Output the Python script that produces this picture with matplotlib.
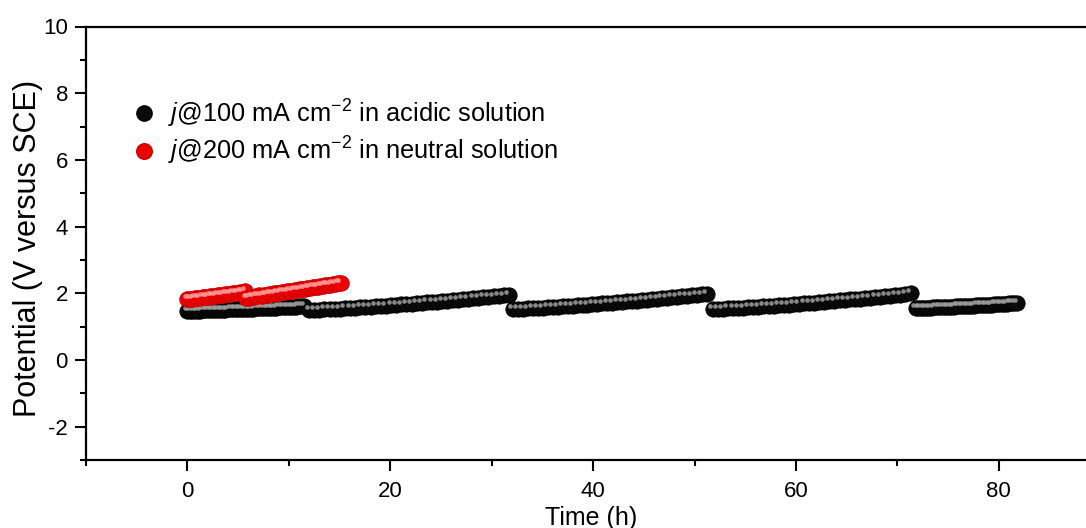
import numpy as np
import matplotlib
matplotlib.use("Agg")
import matplotlib.pyplot as plt
from matplotlib.lines import Line2D
from matplotlib import transforms

plt.rcParams['font.family'] = ['Liberation Sans', 'DejaVu Sans']
plt.rcParams['mathtext.fontset'] = 'custom'
plt.rcParams['mathtext.rm'] = 'Liberation Sans'
plt.rcParams['mathtext.it'] = 'Liberation Sans:italic'
plt.rcParams['axes.unicode_minus'] = False

# ---------------- data ----------------
# acidic, 100 mA cm-2 : five segments (start time, end time, potentials)
acid_seg1_t = (0.0, 11.5)
acid_seg1_v = [1.470, 1.473, 1.476, 1.478, 1.481, 1.483, 1.486, 1.489, 1.491, 1.494,
               1.497, 1.500, 1.502, 1.505, 1.508, 1.511, 1.514, 1.516, 1.519, 1.522,
               1.525, 1.528, 1.531, 1.534, 1.537, 1.540, 1.543, 1.546, 1.549, 1.552,
               1.556, 1.559, 1.562, 1.566, 1.569, 1.573, 1.576, 1.580, 1.583, 1.587,
               1.591, 1.595, 1.599, 1.603, 1.608, 1.614, 1.620]
acid_seg2_t = (12.0, 31.7)
acid_seg2_v = [1.500, 1.504, 1.509, 1.516, 1.523, 1.531, 1.539, 1.548, 1.557, 1.567,
               1.577, 1.587, 1.597, 1.608, 1.619, 1.630, 1.641, 1.653, 1.665, 1.677,
               1.689, 1.701, 1.714, 1.726, 1.739, 1.752, 1.766, 1.779, 1.792, 1.806,
               1.820, 1.834, 1.848, 1.862, 1.877, 1.891, 1.905, 1.920, 1.935, 1.950]
acid_seg3_t = (32.1, 51.2)
acid_seg3_v = [1.530, 1.534, 1.539, 1.545, 1.552, 1.560, 1.568, 1.577, 1.586, 1.596,
               1.606, 1.616, 1.626, 1.637, 1.648, 1.659, 1.670, 1.682, 1.694, 1.706,
               1.718, 1.730, 1.743, 1.755, 1.768, 1.781, 1.795, 1.808, 1.821, 1.835,
               1.849, 1.863, 1.877, 1.891, 1.906, 1.921, 1.935, 1.950, 1.965, 1.980]
acid_seg4_t = (51.8, 71.3)
acid_seg4_v = [1.530, 1.534, 1.540, 1.546, 1.553, 1.561, 1.570, 1.579, 1.588, 1.598,
               1.608, 1.618, 1.629, 1.640, 1.651, 1.662, 1.674, 1.686, 1.698, 1.710,
               1.723, 1.735, 1.748, 1.761, 1.774, 1.788, 1.801, 1.815, 1.829, 1.843,
               1.857, 1.872, 1.886, 1.901, 1.916, 1.931, 1.946, 1.961, 1.980, 2.000]
acid_seg5_t = (71.8, 81.8)
acid_seg5_v = [1.560, 1.561, 1.563, 1.565, 1.567, 1.570, 1.572, 1.575, 1.578, 1.581,
               1.584, 1.588, 1.591, 1.595, 1.598, 1.602, 1.606, 1.610, 1.614, 1.617,
               1.621, 1.625, 1.629, 1.633, 1.637, 1.641, 1.645, 1.650, 1.654, 1.659,
               1.663, 1.668, 1.672, 1.677, 1.682, 1.686, 1.691, 1.696, 1.700, 1.705,
               1.710]

# neutral, 200 mA cm-2 : two segments
neut_seg1_t = (0.0, 5.7)
neut_seg1_v = [1.820, 1.830, 1.841, 1.850, 1.861, 1.870, 1.880, 1.891, 1.900, 1.910,
               1.921, 1.930, 1.940, 1.951, 1.960, 1.970, 1.981, 1.990, 2.000, 2.011,
               2.022, 2.036, 2.051, 2.070]
neut_seg2_t = (5.8, 15.1)
neut_seg2_v = [1.860, 1.872, 1.884, 1.898, 1.925, 1.935, 1.933, 1.945, 1.957, 1.972,
               1.990, 1.994, 2.006, 2.018, 2.030, 2.042, 2.055, 2.067, 2.079, 2.091,
               2.103, 2.115, 2.128, 2.140, 2.152, 2.164, 2.176, 2.188, 2.201, 2.213,
               2.225, 2.237, 2.249, 2.261, 2.274, 2.286, 2.298, 2.310]

acid_segments = [(acid_seg1_t, acid_seg1_v), (acid_seg2_t, acid_seg2_v),
                 (acid_seg3_t, acid_seg3_v), (acid_seg4_t, acid_seg4_v),
                 (acid_seg5_t, acid_seg5_v)]
neut_segments = [(neut_seg1_t, neut_seg1_v), (neut_seg2_t, neut_seg2_v)]

label_acid = r'$j$@100 mA cm$^{-2}$ in acidic solution'
label_neut = r'$j$@200 mA cm$^{-2}$ in neutral solution'

x_major = [0, 20, 40, 60, 80]
y_major = [-2, 0, 2, 4, 6, 8, 10]

# ---------------- figure ----------------
fig = plt.figure(figsize=(10.86, 5.28), dpi=100)
ax = fig.add_axes([86 / 1086, 68 / 528, 1000 / 1086, 433.5 / 528])

hl_off = transforms.offset_copy(ax.transData, fig=fig, x=-1.8, y=2.1, units='points')


def draw_series(segments, face, edge, hl, ms, z):
    for (t0, t1), v in segments:
        t = np.linspace(t0, t1, len(v))
        ax.plot(t, v, 'o', ms=ms, mfc=face, mec=edge, mew=0.6, zorder=z)
        ax.plot(t, v, 'o', ms=ms * 0.3, mfc=hl, mec='none', alpha=0.85,
                transform=hl_off, zorder=z + 0.1)


draw_series(acid_segments, '#0a0a0a', '#000000', '#a0a0a0', 11.0, 3)
draw_series(neut_segments, '#ee0000', '#cc0000', '#ff9a9a', 11.2, 4)

ax.set_xlim(-10, 88.6)
ax.set_ylim(-3, 10)
ax.set_xticks(x_major)
ax.set_xticks([-10, 10, 30, 50, 70], minor=True)
ax.set_yticks(y_major)
ax.set_yticks([-3, -1, 1, 3, 5, 7, 9], minor=True)

for s in ['left', 'bottom', 'top']:
    ax.spines[s].set_linewidth(1.6)
ax.spines['right'].set_visible(False)
ax.tick_params(which='major', direction='out', length=8, width=1.5,
               labelsize=16, pad=5, top=False, right=False)
ax.tick_params(axis='x', which='major', pad=7)
ax.tick_params(which='minor', direction='out', length=4.5, width=1.5,
               top=False, right=False)

ax.set_xlabel('Time (h)', fontsize=18)
ax.set_ylabel('Potential (V versus SCE)', fontsize=22)
ax.xaxis.set_label_coords(0.505, -0.134)
ax.yaxis.set_label_coords(-0.058, 0.489)
ax.xaxis.label.set_va('center')
ax.yaxis.label.set_va('center')

h1 = Line2D([], [], ls='none', marker='o', ms=11.0, mfc='#0a0a0a', mec='#000000')
h2 = Line2D([], [], ls='none', marker='o', ms=11.2, mfc='#ee0000', mec='#cc0000')
ax.legend([h1, h2], [label_acid, label_neut], loc='upper left',
          bbox_to_anchor=(0.035, 0.86), frameon=False, fontsize=18.3,
          handletextpad=0.45, labelspacing=0.22, handlelength=1.0,
          borderaxespad=0)

fig.savefig('out.png', dpi=100)
